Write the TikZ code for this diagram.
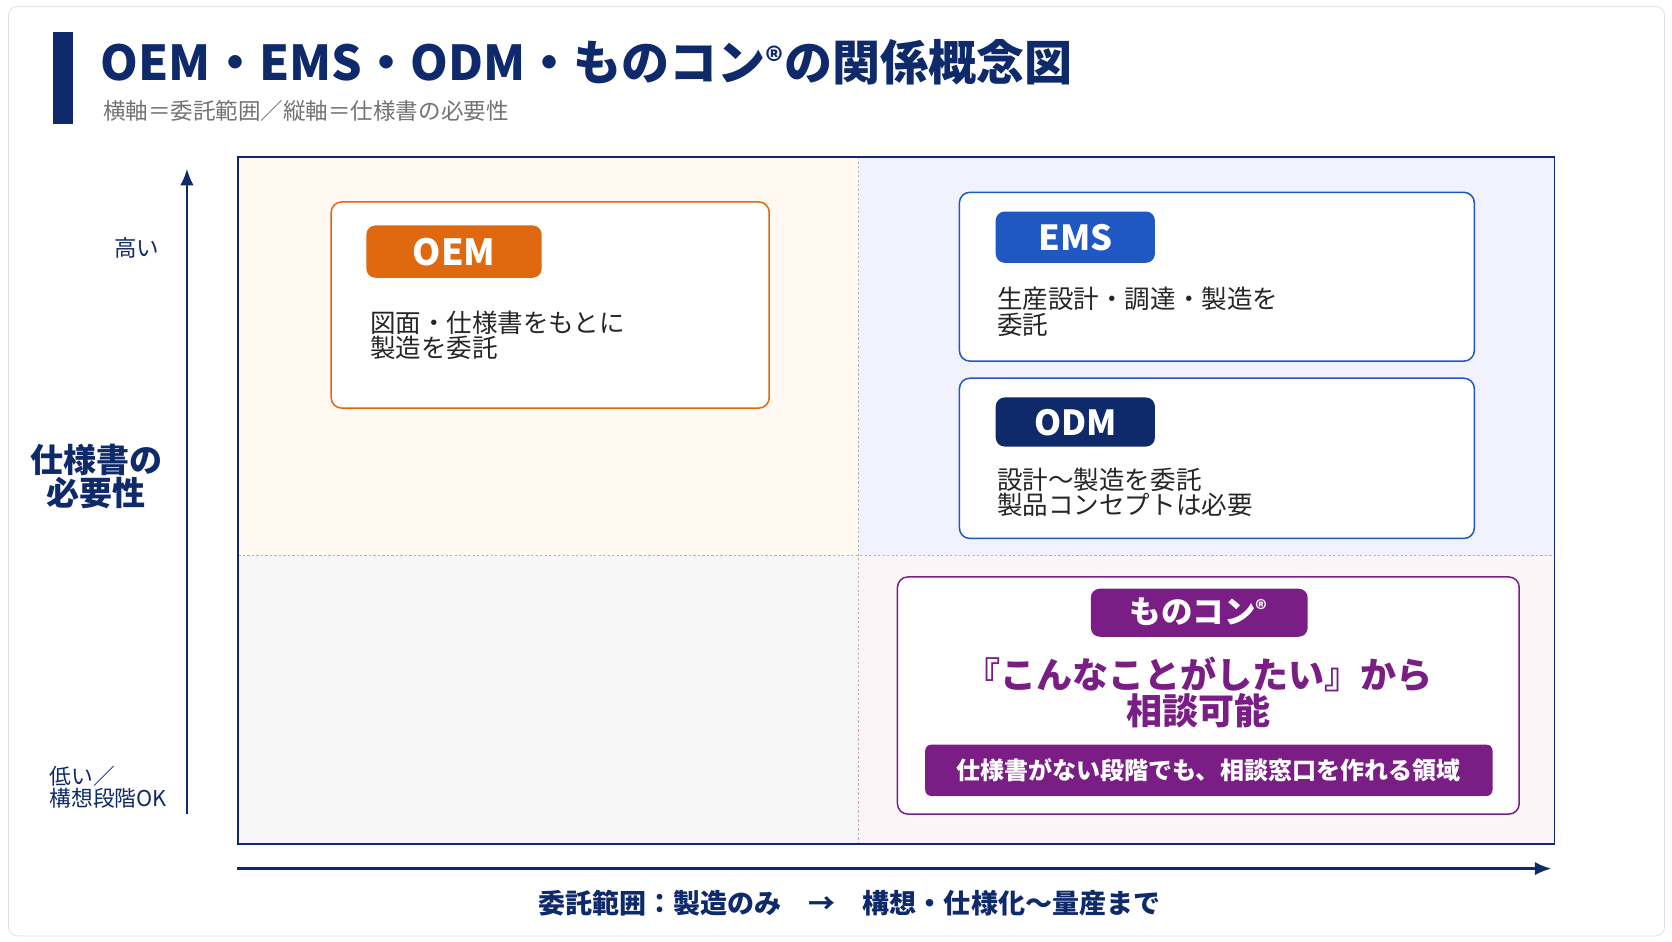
\documentclass[tikz,border=0pt]{standalone}
\usepackage{fontspec}
\usetikzlibrary{arrows.meta}
\setmainfont{Noto Sans CJK JP}
\definecolor{navy}{HTML}{0F2A6B}
\definecolor{orng}{HTML}{E0680F}
\definecolor{blu}{HTML}{1F57C3}
\definecolor{purp}{HTML}{7A1E86}
\newcommand{\fs}[1]{\fontsize{#1}{#1*1.2}\selectfont}
\begin{document}
\begin{tikzpicture}[x=0.05cm,y=-0.05cm,
  card/.style={draw=#1,line width=2pt,rounded corners=14pt,fill=white},
  pill/.style={fill=#1,rounded corners=12pt},
  body/.style={anchor=west,align=left,text=black!85,font=\fs{34pt}},
  divl/.style={draw=gray!60,dashed,line width=0.8pt}]
\useasboundingbox (0,0) rectangle (1565,880.8);
\fill[white] (0,0) rectangle (1565,880.8);
\draw[gray!25,line width=1pt,rounded corners=12pt] (8,6) rectangle (1558,876);
\fill[navy] (50,30) rectangle (68,116);
\node[anchor=west,text=navy,font=\fs{64pt}\bfseries] (title) at (92,58) {OEM・EMS・ODM・ものコン\textsuperscript{®}の関係概念図};
\node[anchor=west,text=gray!90!black,font=\fs{30pt}] (sub) at (94,104) {横軸＝委託範囲／縦軸＝仕様書の必要性};
% quadrants
\fill[orange!5] (223,147) rectangle (803,520);
\fill[blue!5] (803,147) rectangle (1455,520);
\fill[gray!7] (223,520) rectangle (803,790);
\fill[purple!4] (803,520) rectangle (1455,790);
\draw[divl] (803,147) -- (803,790);
\draw[divl] (223,520) -- (1455,520);
\draw[navy,line width=2.5pt] (223,147) rectangle (1455,790);
% axes
\coordinate (ya) at (175,762); \coordinate (yb) at (175,158);
\draw[navy,line width=3pt,-{Latex[length=22pt,width=18pt]}] (ya) -- (yb);
\coordinate (xa) at (222,813); \coordinate (xb) at (1452,813);
\draw[navy,line width=3pt,-{Latex[length=22pt,width=18pt]}] (xa) -- (xb);
\node[text=navy,font=\fs{30pt}] (hi) at (128,232) {高い};
\node[text=navy,font=\fs{44pt}\bfseries,align=center] (ylab) at (90,446) {仕様書の\\必要性};
\node[text=navy,font=\fs{29pt},anchor=west,align=left] (lo) at (44,737) {低い／\\構想段階OK};
\node[text=navy,font=\fs{36pt}\bfseries] (xlab) at (795,845) {委託範囲：製造のみ　→　構想・仕様化〜量産まで};
% OEM
\draw[card=orng] (310,189) rectangle (720,382);
\fill[pill=orng] (343,211) rectangle (507,260);
\node[text=white,font=\fs{48pt}\bfseries] (oem) at (425,236) {OEM};
\node[body] (oemt) at (344,314) {図面・仕様書をもとに\\製造を委託};
% EMS
\draw[card=blu] (898,180) rectangle (1380,338);
\fill[pill=blu] (932,198) rectangle (1081,246);
\node[text=white,font=\fs{46pt}\bfseries] (ems) at (1007,222) {EMS};
\node[body] (emst) at (931,292) {生産設計・調達・製造を\\委託};
% ODM
\draw[card=blu] (898,354) rectangle (1380,504);
\fill[pill=navy] (932,372) rectangle (1081,418);
\node[text=white,font=\fs{46pt}\bfseries] (odm) at (1007,396) {ODM};
\node[body] (odmt) at (931,461) {設計〜製造を委託\\製品コンセプトは必要};
% monocon
\draw[card=purp] (840,540) rectangle (1422,762);
\fill[pill=purp] (1021,551) rectangle (1224,596);
\node[text=white,font=\fs{42pt}\bfseries] (mono) at (1122,573) {ものコン\textsuperscript{®}};
\node[text=purp,font=\fs{48pt}\bfseries,align=center] (big) at (1122,648) {『こんなことがしたい』から\\相談可能};
\fill[purp,rounded corners=8pt] (866,697) rectangle (1397,745);
\node[text=white,font=\fs{32pt}\bfseries] (bar) at (1131,721) {仕様書がない段階でも、相談窓口を作れる領域};
\end{tikzpicture}
\end{document}
